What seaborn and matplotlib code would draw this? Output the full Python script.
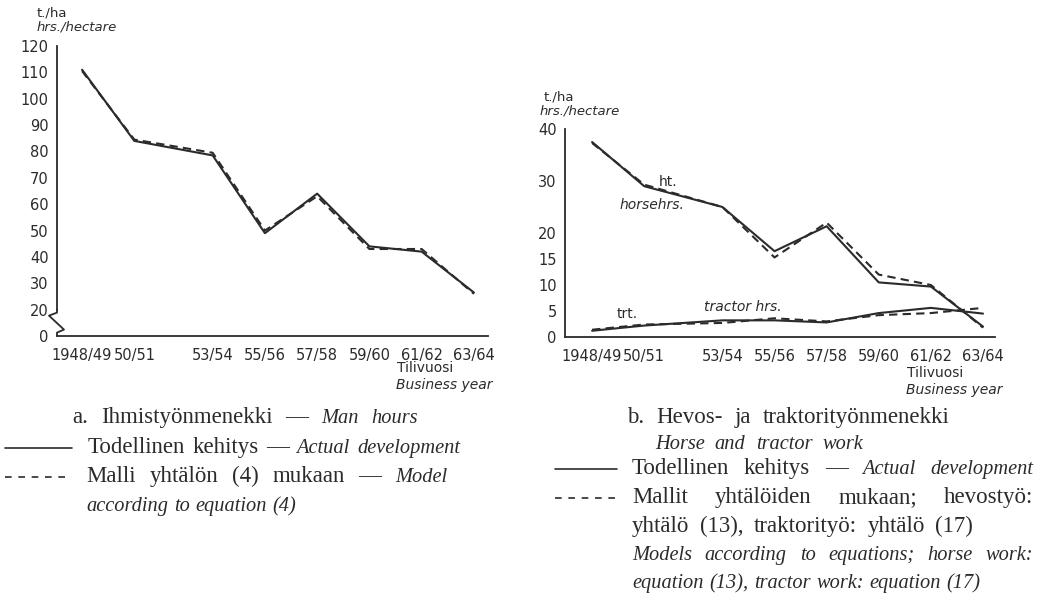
#!/usr/bin/env python3
"""
Man hours and horse/tractor hours per hectare, actual vs model (two panels).
"""

import matplotlib
matplotlib.use("Agg")
import matplotlib.pyplot as plt
from matplotlib.lines import Line2D
import seaborn as sns
import pandas as pd

# Data
years = [1948, 1950, 1953, 1955, 1957, 1959, 1961, 1963]
year_labels = ['1948/49', '50/51', '53/54', '55/56', '57/58', '59/60', '61/62', '63/64']

man_actual = [111, 84, 78.5, 49, 64, 44, 42, 26.5]
man_model = [110.5, 84.5, 79.5, 50, 63, 43, 43, 26]

horse_actual = [37.5, 29, 25, 16.5, 21.3, 10.5, 9.7, 2.0]
horse_model = [37.3, 29.3, 25, 15.3, 22, 12, 10, 1.8]
tractor_actual = [1.2, 2.2, 3.2, 3.2, 2.8, 4.6, 5.6, 4.5]
tractor_model = [1.4, 2.4, 2.7, 3.6, 3.0, 4.2, 4.6, 5.6]

left_yticks = [10, 20, 30, 40, 50, 60, 70, 80, 90, 100, 110, 120]
left_ylabels = ['0', '20', '30', '40', '50', '60', '70', '80', '90', '100', '110', '120']
right_yticks = [0, 5, 10, 15, 20, 30, 40]
right_yminor = [25, 35]

INK = '#2b2b2b'
W, H = 1045, 605

sns.set_style('white')
plt.rcParams['font.family'] = ['DejaVu Sans']
plt.rcParams['text.color'] = INK
plt.rcParams['axes.edgecolor'] = INK
plt.rcParams['xtick.color'] = INK
plt.rcParams['ytick.color'] = INK


def fx(px):
    return px / W


def fy(py):
    return 1 - py / H


fig = plt.figure(figsize=(W / 100, H / 100), dpi=100)
fig.patch.set_facecolor('white')

ax1 = fig.add_axes([fx(57), fy(336), fx(488) - fx(57), fy(46) - fy(336)])
ax2 = fig.add_axes([fx(565), fy(337), fx(995) - fx(565), fy(129) - fy(337)])

solid = dict(color=INK, linewidth=1.5)
dashed = dict(color=INK, linewidth=1.5, dashes=(4, 2.5))

# panel a
df_a = pd.DataFrame({'year': years, 'actual': man_actual, 'model': man_model})
sns.lineplot(data=df_a, x='year', y='actual', ax=ax1, **solid)
sns.lineplot(data=df_a, x='year', y='model', ax=ax1, **dashed)

# panel b
df_b = pd.DataFrame({'year': years, 'horse_actual': horse_actual, 'horse_model': horse_model,
                     'tractor_actual': tractor_actual, 'tractor_model': tractor_model})
sns.lineplot(data=df_b, x='year', y='horse_actual', ax=ax2, **solid)
sns.lineplot(data=df_b, x='year', y='horse_model', ax=ax2, **dashed)
sns.lineplot(data=df_b, x='year', y='tractor_actual', ax=ax2, **solid)
sns.lineplot(data=df_b, x='year', y='tractor_model', ax=ax2, **dashed)

ax1.set_xlim(1947.04, 1963.54)
ax1.set_ylim(10, 120)
ax2.set_xlim(1946.96, 1963.46)
ax2.set_ylim(0, 40)

for ax in (ax1, ax2):
    ax.set_facecolor('none')
    ax.set_xlabel('')
    ax.set_ylabel('')
    ax.spines['top'].set_visible(False)
    ax.spines['right'].set_visible(False)
    ax.spines['left'].set_linewidth(1.3)
    ax.spines['bottom'].set_linewidth(1.3)
    ax.set_xticks(years)
    ax.set_xticklabels(year_labels)
    ax.tick_params(axis='x', direction='inout', length=9, width=1.2, pad=4, labelsize=10.5)
    ax.tick_params(axis='y', direction='out', length=4, width=1.2, pad=2, labelsize=10.5)

ax1.set_yticks(left_yticks)
ax1.set_yticklabels(left_ylabels)
ax1.spines['left'].set_bounds(20, 120)

# axis break on panel a between 0 and 20
x0 = 1947.04
px_x = 1 / 26.13
px_y = 1 / 2.64
brk_x = [x0, x0, x0 - 8 * px_x, x0 + 7 * px_x, x0, x0]
brk_y = [20, 20 - 3 * px_y, 20 - 6 * px_y, 20 - 20 * px_y, 20 - 23 * px_y, 10]
ax1.plot(brk_x, brk_y, color=INK, linewidth=1.3, clip_on=False)

ax2.set_yticks(right_yticks)
ax2.set_yticks(right_yminor, minor=True)
ax2.tick_params(axis='y', which='minor', direction='out', length=3, width=1.2)

# line labels in panel b
ax2.text(1950.9, 29.8, 'ht.', fontsize=10, ha='center', va='center')
ax2.text(1950.3, 25.4, 'horsehrs.', fontsize=10, style='italic', ha='center', va='center')
ax2.text(1949.35, 4.4, 'trt.', fontsize=10, ha='center', va='center')
ax2.text(1953.8, 5.8, 'tractor hrs.', fontsize=10, style='italic', ha='center', va='center')

# unit headers
fig.text(fx(37), fy(13), 't./ha', fontsize=9.5, va='center')
fig.text(fx(37), fy(27), 'hrs./hectare', fontsize=9.5, style='italic', va='center')
fig.text(fx(544), fy(97), 't./ha', fontsize=9.5, va='center')
fig.text(fx(540), fy(111), 'hrs./hectare', fontsize=9.5, style='italic', va='center')

# x axis titles
fig.text(fx(397), fy(368), 'Tilivuosi', fontsize=10, va='center')
fig.text(fx(396), fy(385), 'Business year', fontsize=10, style='italic', va='center')
fig.text(fx(907), fy(373), 'Tilivuosi', fontsize=10, va='center')
fig.text(fx(906), fy(390), 'Business year', fontsize=10, style='italic', va='center')

# captions, set word by word so lines can be justified like the printed page
serif = ['Liberation Serif', 'DejaVu Serif']
ROMAN_SIZE = 16.5
ITALIC_SIZE = 14.7
renderer = fig.canvas.get_renderer()


def caption(x, y, roman, italic='', end=None):
    words = [(w, False) for w in roman.split()] + [(w, True) for w in italic.split()]
    artists = []
    for w, ital in words:
        t = fig.text(0, fy(y), w, family=serif, va='baseline',
                     fontsize=ITALIC_SIZE if ital else ROMAN_SIZE,
                     style='italic' if ital else 'normal')
        artists.append(t)
    widths = [t.get_window_extent(renderer).width for t in artists]
    if end is None or len(words) < 2:
        size = ROMAN_SIZE if roman else ITALIC_SIZE
        gap = 0.28 * size * 100 / 72
    else:
        gap = (end - x - sum(widths)) / (len(words) - 1)
    cur = x
    for t, wd in zip(artists, widths):
        t.set_x(fx(cur))
        cur += wd + gap


caption(72, 423, 'a. Ihmistyönmenekki —', 'Man hours', end=418)
caption(88, 453, 'Todellinen kehitys —', 'Actual development', end=460)
caption(86, 482, 'Malli yhtälön (4) mukaan —', 'Model', end=447)
caption(86, 511, '', 'according to equation (4)')

caption(627, 423, 'b. Hevos- ja traktorityönmenekki', end=950)
caption(655, 449, '', 'Horse and tractor work', end=863)
caption(632, 474, 'Todellinen kehitys —', 'Actual development', end=1033)
caption(632, 503, 'Mallit yhtälöiden mukaan; hevostyö:', end=1033)
caption(632, 532, 'yhtälö (13), traktorityö: yhtälö (17)', end=973)
caption(632, 560, '', 'Models according to equations; horse work:', end=1033)
caption(632, 588, '', 'equation (13), tractor work: equation (17)')

# legend line samples
fig.add_artist(Line2D([fx(5), fx(72)], [fy(448), fy(448)], color=INK, linewidth=1.2))
fig.add_artist(Line2D([fx(5), fx(70)], [fy(477), fy(477)], color=INK, linewidth=1.2,
                      dashes=(4, 4)))
fig.add_artist(Line2D([fx(555), fx(617)], [fy(469), fy(469)], color=INK, linewidth=1.2))
fig.add_artist(Line2D([fx(555), fx(617)], [fy(498), fy(498)], color=INK, linewidth=1.2,
                      dashes=(4, 4)))

fig.savefig('out.png', dpi=100, facecolor='white')
